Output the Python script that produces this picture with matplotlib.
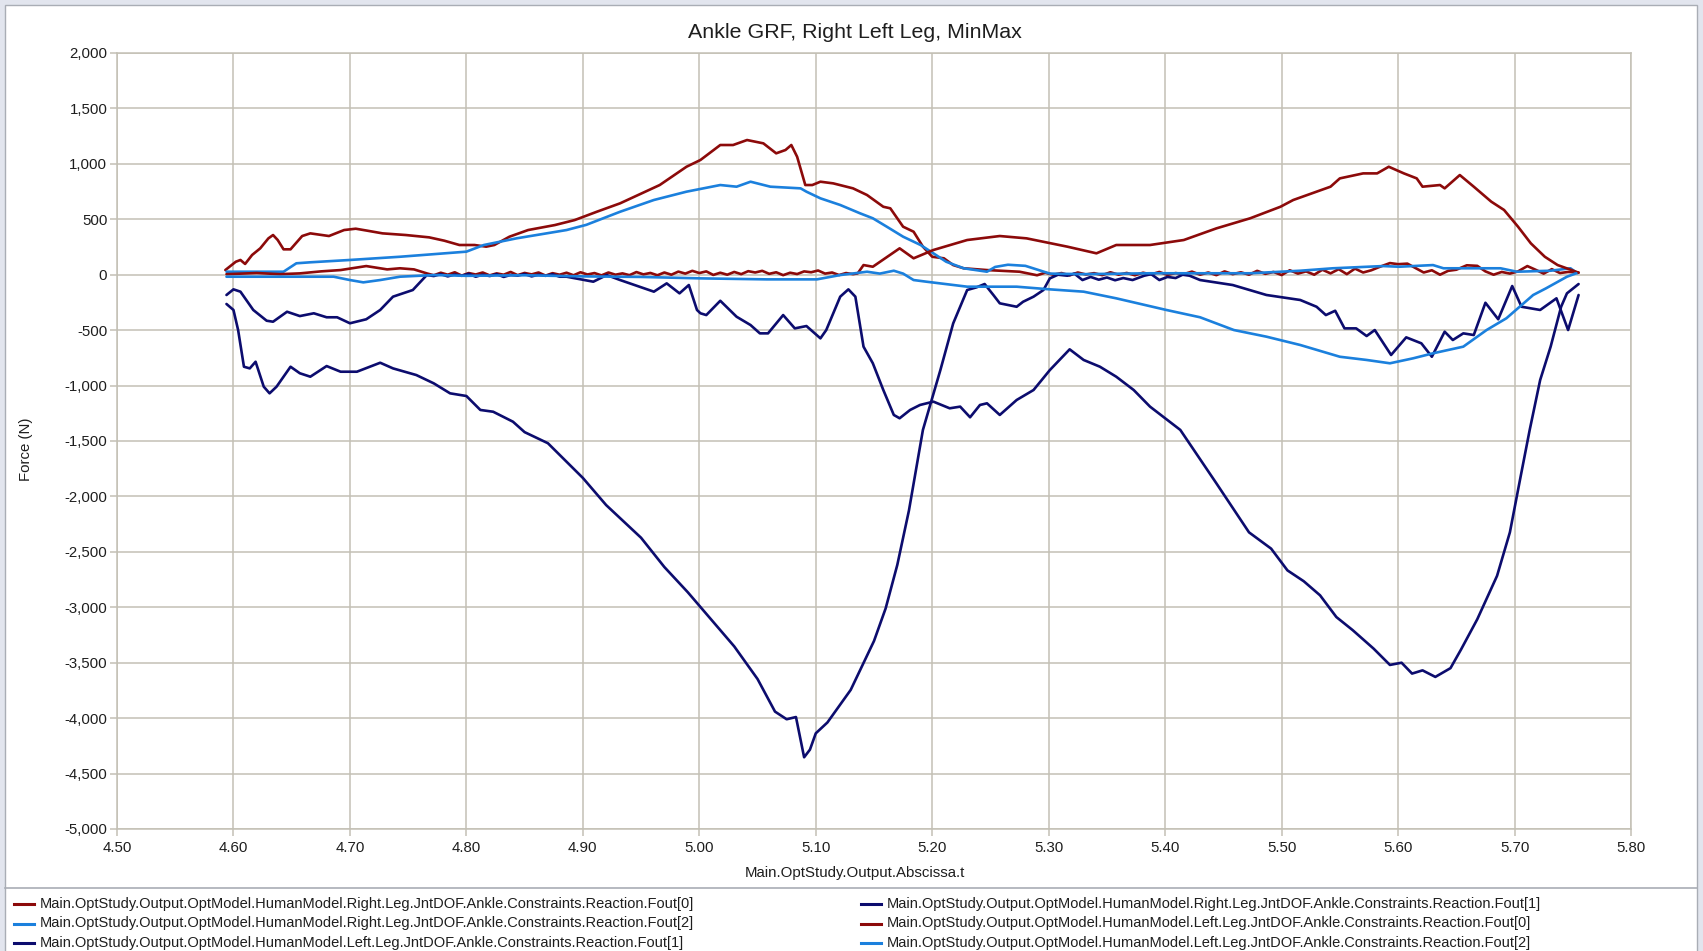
import matplotlib
matplotlib.use("Agg")
import matplotlib.pyplot as plt
from matplotlib.lines import Line2D
from matplotlib.patches import Rectangle
from matplotlib.ticker import FuncFormatter, MultipleLocator

plt.rcParams['font.family'] = ['Liberation Sans', 'DejaVu Sans']

# ---------------------------------------------------------------- data
TITLE = "Ankle GRF, Right Left Leg, MinMax"
X_LABEL = "Main.OptStudy.Output.Abscissa.t"
Y_LABEL = "Force (N)"

PREFIX = "Main.OptStudy.Output.OptModel.HumanModel."
LABEL_R0 = PREFIX + "Right.Leg.JntDOF.Ankle.Constraints.Reaction.Fout[0]"
LABEL_R1 = PREFIX + "Right.Leg.JntDOF.Ankle.Constraints.Reaction.Fout[1]"
LABEL_R2 = PREFIX + "Right.Leg.JntDOF.Ankle.Constraints.Reaction.Fout[2]"
LABEL_L0 = PREFIX + "Left.Leg.JntDOF.Ankle.Constraints.Reaction.Fout[0]"
LABEL_L1 = PREFIX + "Left.Leg.JntDOF.Ankle.Constraints.Reaction.Fout[1]"
LABEL_L2 = PREFIX + "Left.Leg.JntDOF.Ankle.Constraints.Reaction.Fout[2]"

# Right ankle, Fout[0]
R0_t = [4.593, 4.602, 4.606, 4.610, 4.616, 4.623, 4.630, 4.634, 4.638, 4.643,
        4.649, 4.659, 4.666, 4.682, 4.695, 4.705, 4.715, 4.728, 4.748, 4.768,
        4.781, 4.794, 4.807, 4.817, 4.824, 4.837, 4.853, 4.876, 4.893, 4.912,
        4.932, 4.966, 4.989, 5.001, 5.018, 5.029, 5.041, 5.055, 5.066, 5.074,
        5.079, 5.084, 5.091, 5.097, 5.104, 5.115, 5.132, 5.144, 5.158, 5.164,
        5.175, 5.184, 5.192, 5.200, 5.210, 5.218, 5.227, 5.247, 5.275,
        5.283, 5.290, 5.297, 5.304, 5.311, 5.318, 5.325, 5.332, 5.339, 5.346,
        5.353, 5.360, 5.367, 5.374, 5.381, 5.388, 5.395, 5.402, 5.409, 5.416,
        5.423, 5.430, 5.437, 5.444, 5.451, 5.458, 5.465, 5.472, 5.479, 5.486,
        5.493, 5.500, 5.507, 5.514, 5.521, 5.528, 5.535, 5.542, 5.549, 5.556,
        5.563, 5.570, 5.577, 5.584,
        5.593, 5.600, 5.608, 5.615, 5.622, 5.629, 5.636, 5.643, 5.650, 5.659,
        5.668, 5.675, 5.682, 5.689, 5.696, 5.703, 5.711, 5.718, 5.725, 5.732,
        5.739, 5.746, 5.755]
R0_v = [42, 117, 133, 97, 178, 238, 328, 358, 313, 229,
        229, 349, 373, 349, 403, 415, 397, 373, 358, 337,
        307, 268, 268, 253, 268, 343, 403, 448, 493, 568,
        644, 809, 974, 1035, 1170, 1170, 1215, 1185, 1095, 1125,
        1170, 1064, 809, 809, 839, 824, 779, 719, 613, 599,
        433, 388, 253, 162, 148, 87, 58, 42, 27,
        10, -5, 18, 0, 15, -6, 20, 2, 14, -4,
        22, 0, 16, -5, 18, 3, 25, -2, 15, 5,
        28, 0, 20, -4, 30, 5, 22, 0, 35, 8,
        25, -3, 40, 10, 30, 0, 45, 12, 50, 5,
        55, 20, 40, 70,
        105, 95, 100, 60, 20, 40, 0, 35, 45, 85,
        80, 30, 0, 25, 10, 30, 78, 45, 10, 50,
        15, 25, 20]

# Right ankle, Fout[1]
R1_t = [4.594, 4.600, 4.604, 4.609, 4.614, 4.619, 4.626, 4.631, 4.637, 4.649,
        4.657, 4.666, 4.680, 4.692, 4.706, 4.726, 4.737, 4.757, 4.772, 4.786,
        4.800, 4.812, 4.823, 4.840, 4.850, 4.870, 4.900, 4.920, 4.950, 4.970,
        4.990, 5.010, 5.030, 5.050, 5.065, 5.075, 5.083, 5.090, 5.095, 5.100,
        5.110, 5.130, 5.150, 5.160, 5.170, 5.180, 5.192, 5.207, 5.218, 5.230,
        5.238, 5.245, 5.2525, 5.258, 5.2725, 5.278, 5.287, 5.2955, 5.301, 5.308,
        5.316, 5.322, 5.329, 5.336, 5.343, 5.350, 5.357, 5.364, 5.372, 5.382,
        5.388, 5.395, 5.402, 5.409, 5.415, 5.421, 5.430, 5.458, 5.487, 5.516,
        5.530, 5.538, 5.546, 5.554, 5.564, 5.573, 5.580, 5.594, 5.607, 5.620,
        5.629, 5.640, 5.647, 5.656, 5.665, 5.675, 5.686, 5.698, 5.706, 5.722,
        5.736, 5.746, 5.755]
R1_v = [-264, -318, -499, -830, -845, -785, -1010, -1070, -1010, -830,
        -889, -920, -824, -875, -875, -794, -845, -905, -980, -1070,
        -1094, -1220, -1236, -1326, -1420, -1520, -1833, -2078, -2373, -2637,
        -2863, -3108, -3353, -3647, -3941, -4010, -3990, -4353, -4284, -4137,
        -4039, -3745, -3304, -3010, -2618, -2127, -1400, -860, -439, -138,
        -114, -84, -183, -258, -289, -244, -198, -138, -33, 0,
        -9, 10, -48, -20, -45, -25, -50, -30, -48, -9,
        5, -48, -20, -30, 0, -9, -48, -93, -183, -228,
        -289, -364, -325, -484, -484, -553, -499, -724, -565, -619,
        -740, -514, -589, -529, -544, -253, -402, -102, -289, -318,
        -213, -499, -183]

# Right ankle, Fout[2]
R2_t = [4.594, 4.643, 4.654, 4.666, 4.700, 4.743, 4.800, 4.815, 4.843, 4.886,
        4.903, 4.932, 4.961, 4.989, 5.018, 5.032, 5.044, 5.061, 5.087, 5.092,
        5.104, 5.121, 5.138, 5.149, 5.161, 5.175, 5.190, 5.201, 5.212, 5.227,
        5.247, 5.254, 5.265, 5.280, 5.292, 5.301, 5.330, 5.387, 5.473, 5.516,
        5.544, 5.587, 5.601, 5.630, 5.639, 5.659, 5.688, 5.702, 5.731, 5.748,
        5.754]
R2_v = [27, 27, 103, 112, 133, 162, 208, 268, 328, 403,
        450, 568, 674, 749, 809, 794, 839, 794, 779, 749,
        689, 629, 554, 509, 433, 343, 268, 193, 117, 58,
        27, 70, 90, 80, 40, 10, 5, 13, 13, 36,
        58, 78, 72, 87, 58, 58, 58, 27, 36, 58,
        13]

# Left ankle, Fout[0]
L0_t = [4.594, 4.620, 4.640, 4.657, 4.675, 4.692, 4.714, 4.732, 4.743, 4.755,
        4.766, 4.772, 4.778, 4.784, 4.790, 4.796, 4.802, 4.808, 4.814, 4.820,
        4.826, 4.832, 4.838, 4.844, 4.850, 4.856, 4.862, 4.868, 4.874, 4.880,
        4.886, 4.892, 4.898, 4.904, 4.910, 4.916, 4.922, 4.928, 4.934, 4.940,
        4.946, 4.952, 4.958, 4.964, 4.970, 4.976, 4.982, 4.988, 4.994, 5.000,
        5.006, 5.012, 5.018, 5.024, 5.030, 5.036, 5.042, 5.048, 5.054, 5.060,
        5.066, 5.072, 5.078, 5.084, 5.090, 5.096, 5.102, 5.108, 5.114, 5.120,
        5.126, 5.132, 5.136, 5.141, 5.149, 5.172, 5.184, 5.201, 5.230, 5.258,
        5.281, 5.316, 5.341, 5.358, 5.387, 5.416, 5.444, 5.473, 5.499, 5.510,
        5.542, 5.550, 5.570, 5.582, 5.592, 5.605, 5.616, 5.621, 5.636, 5.640,
        5.653, 5.665, 5.680, 5.691, 5.703, 5.714, 5.726, 5.737, 5.749, 5.755]
L0_v = [5, 15, 5, 12, 30, 42, 78, 48, 58, 48,
        12, -5, 18, 0, 22, -8, 15, 2, 20, -6,
        12, 0, 25, -4, 16, 3, 20, -8, 14, 0,
        18, -5, 22, 2, 15, -6, 20, 0, 12, -4,
        24, 3, 16, -5, 20, 0, 28, 10, 35, 15,
        30, -2, 18, 0, 25, 5, 32, 20, 35, 8,
        22, -4, 18, 6, 30, 22, 38, 10, 20, -3,
        15, 5, 12, 87, 72, 238, 148, 223, 313, 349,
        328, 253, 193, 268, 268, 313, 418, 509, 613, 674,
        794, 869, 914, 914, 974, 914, 869, 794, 809, 779,
        899, 794, 659, 584, 433, 283, 162, 87, 42, 18]

# Left ankle, Fout[1]
L1_t = [4.594, 4.600, 4.606, 4.617, 4.6285, 4.634, 4.646, 4.657, 4.669, 4.680,
        4.689, 4.700, 4.714, 4.726, 4.737, 4.754, 4.766, 4.772, 4.778, 4.784,
        4.790, 4.796, 4.802, 4.808, 4.814, 4.820, 4.826, 4.832, 4.838, 4.844,
        4.850, 4.856, 4.862, 4.868, 4.874, 4.880, 4.886, 4.909, 4.9205, 4.932,
        4.961, 4.972, 4.983, 4.991, 4.998, 5.001, 5.006, 5.018, 5.032, 5.044,
        5.052, 5.059, 5.072, 5.082, 5.092, 5.104, 5.109, 5.121, 5.128, 5.134,
        5.141, 5.149, 5.158, 5.167, 5.172, 5.181, 5.1895, 5.201, 5.215, 5.224,
        5.2325, 5.241, 5.247, 5.258, 5.2725, 5.287, 5.301, 5.318, 5.330, 5.344,
        5.358, 5.373, 5.387, 5.413, 5.444, 5.472, 5.491, 5.505, 5.519, 5.533,
        5.547, 5.561, 5.579, 5.593, 5.603, 5.612, 5.621, 5.632, 5.645, 5.654,
        5.668, 5.685, 5.696, 5.705, 5.713, 5.722, 5.731, 5.740, 5.745, 5.755]
L1_v = [-183, -132, -153, -318, -415, -424, -334, -373, -348, -384,
        -384, -438, -402, -318, -198, -138, -3, -12, 5, -15,
        2, -10, 8, -18, 0, -12, 5, -20, -2, -8,
        6, -15, 0, -10, 4, -18, -18, -63, -3, -48,
        -153, -78, -168, -93, -318, -348, -364, -235, -379, -454,
        -529, -529, -364, -484, -463, -574, -499, -198, -132, -198,
        -649, -799, -1040, -1265, -1295, -1220, -1175, -1145, -1205, -1190,
        -1286, -1175, -1160, -1265, -1130, -1040, -860, -673, -769, -830,
        -920, -1040, -1190, -1400, -1882, -2324, -2471, -2667, -2765, -2892,
        -3088, -3206, -3373, -3520, -3500, -3598, -3569, -3628, -3549, -3382,
        -3108, -2716, -2324, -1833, -1401, -950, -649, -289, -168, -84]

# Left ankle, Fout[2]
L2_t = [4.594, 4.643, 4.686, 4.700, 4.7115, 4.726, 4.743, 4.772, 4.800, 4.850,
        4.900, 4.950, 5.001, 5.058, 5.101, 5.121, 5.135, 5.144, 5.155, 5.167,
        5.175, 5.184, 5.195, 5.230, 5.2725, 5.301, 5.330, 5.358, 5.401, 5.430,
        5.459, 5.487, 5.516, 5.550, 5.573, 5.593, 5.613, 5.630, 5.656, 5.676,
        5.693, 5.716, 5.727, 5.745, 5.753]
L2_v = [-18, -18, -18, -48, -69, -48, -18, -3, -10, -5,
        -15, -20, -33, -42, -42, -3, 15, 27, 10, 36,
        10, -48, -63, -108, -108, -132, -153, -213, -318, -384,
        -499, -559, -634, -740, -769, -799, -754, -709, -649, -499,
        -393, -183, -123, -18, 13]

X_LIM = (4.5, 5.8)
Y_LIM = (-5000, 2000)
X_STEP = 0.1
Y_STEP = 500

# ---------------------------------------------------------------- styling
RED = "#8c0a0a"
BLUE = "#1b80dd"
NAVY = "#0c0c6e"
GRID = "#c3c0b5"
FRAME_BG = "#e2e5ee"
BORDER = "#a9adb5"
TEXT = "#1e1e1e"

W, H = 1703, 951


def fx(px):
    return px / W


def fy(py):
    return 1 - py / H


series = [
    (LABEL_R0, R0_t, R0_v, RED),
    (LABEL_R1, R1_t, R1_v, NAVY),
    (LABEL_R2, R2_t, R2_v, BLUE),
    (LABEL_L0, L0_t, L0_v, RED),
    (LABEL_L1, L1_t, L1_v, NAVY),
    (LABEL_L2, L2_t, L2_v, BLUE),
]

fig = plt.figure(figsize=(W / 100, H / 100), dpi=100, facecolor=FRAME_BG)

# white chart panel with the legend strip underneath
panel = Rectangle((fx(5), fy(H + 2)), fx(1697) - fx(5), fy(5) - fy(H + 2),
                  transform=fig.transFigure, facecolor="white",
                  edgecolor=BORDER, lw=1.0, zorder=-10)
fig.add_artist(panel)
sep = Line2D([fx(5), fx(1697)], [fy(888), fy(888)],
             transform=fig.transFigure, color=BORDER, lw=1.2, zorder=-9)
fig.add_artist(sep)

ax = fig.add_axes([fx(117), fy(829), fx(1631) - fx(117), fy(53) - fy(829)])
ax.set_facecolor("white")

lines = []
for label, t, v, color in series:
    ln, = ax.plot(t, v, color=color, lw=1.9, label=label,
                  solid_joinstyle="round", solid_capstyle="round")
    lines.append(ln)

ax.set_xlim(*X_LIM)
ax.set_ylim(*Y_LIM)
ax.xaxis.set_major_locator(MultipleLocator(X_STEP))
ax.yaxis.set_major_locator(MultipleLocator(Y_STEP))
ax.xaxis.set_major_formatter(FuncFormatter(lambda v, _: f"{v:.2f}"))
ax.yaxis.set_major_formatter(FuncFormatter(lambda v, _: f"{v:,.0f}"))
ax.grid(True, color=GRID, lw=1.1)
ax.set_axisbelow(True)
for sp in ax.spines.values():
    sp.set_color(GRID)
    sp.set_linewidth(1.1)
ax.tick_params(axis="both", colors=GRID, labelcolor=TEXT, labelsize=10.8,
               length=5, width=1.1, pad=2)
ax.tick_params(axis="x", pad=3.5)

fig.text(fx(855), fy(32), TITLE, ha="center", va="center", fontsize=15.4, color=TEXT)
fig.text(fx(855), fy(873), X_LABEL, ha="center", va="center", fontsize=10.8, color=TEXT)
fig.text(fx(26), fy(449), Y_LABEL, ha="center", va="center", rotation=90,
         fontsize=10.8, color=TEXT)

# legend laid out row by row in two columns
legend_rows = [fy(904), fy(923.5), fy(943)]
legend_cols = [(14, 34, 40), (861, 881, 887)]
for i, ln in enumerate(lines):
    row, col = divmod(i, 2)
    x0, x1, xt = legend_cols[col]
    yy = legend_rows[row]
    fig.add_artist(Line2D([fx(x0), fx(x1)], [yy, yy], transform=fig.transFigure,
                          color=ln.get_color(), lw=2.2))
    fig.text(fx(xt), yy, ln.get_label(), ha="left", va="center",
             fontsize=10.5, color=TEXT)

fig.savefig("out.png", dpi=100, facecolor=FRAME_BG)
